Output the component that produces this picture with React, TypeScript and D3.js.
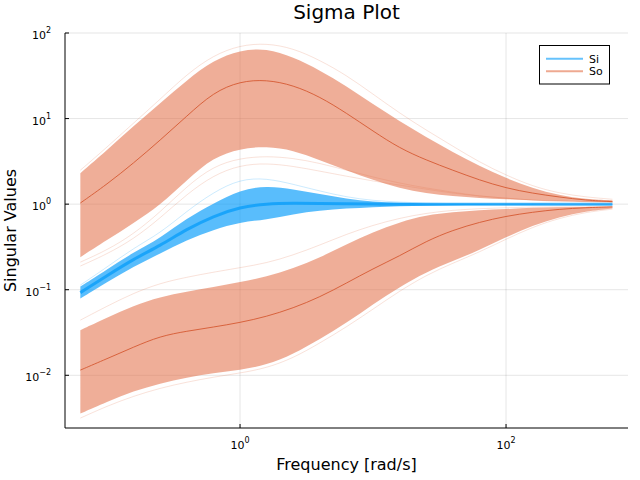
import React from "react";
import * as d3 from "d3";

// Frequency grid [rad/s]
const freqs = [0.063, 0.1, 0.158, 0.251, 0.398, 0.631, 1, 1.58, 2.51, 3.98, 6.31, 10, 15.8, 25.1, 39.8, 63.1, 100, 158, 251, 398, 631];

// Si (input sensitivity) band
const siMax = [0.1087, 0.1726, 0.273, 0.401, 0.686, 1.019, 1.458, 1.645, 1.497, 1.309, 1.159, 1.069, 1.033, 1.019, 1.013, 1.011, 1.008, 1.008, 1.005, 1.005, 1.005];
const siMin = [0.0787, 0.1227, 0.186, 0.2655, 0.38, 0.502, 0.616, 0.659, 0.764, 0.84, 0.891, 0.923, 0.948, 0.961, 0.973, 0.979, 0.984, 0.987, 0.989, 0.989, 0.989];
const siMid = [0.0925, 0.146, 0.228, 0.328, 0.511, 0.724, 0.923, 1.013, 1.027, 1.019, 1.008, 1.0, 1.0, 1.0, 1.0, 1.0, 1.0, 1.0, 1.0, 1.0, 1.0];
const siHigh = [0.1132, 0.1837, 0.306, 0.458, 0.829, 1.38, 1.96, 2.01, 1.71, 1.42, 1.21, 1.099, 1.055, 1.027, 1.013, 1.005, 1.0, 1.0, 1.0, 1.0, 1.0];

// So (output sensitivity) – largest singular value band
const soUpperMax = [2.3, 4.27, 8.15, 15.1, 28.1, 48.1, 63.0, 66.4, 52.2, 36.8, 23.9, 14.7, 9.33, 6.06, 4.05, 2.78, 2.01, 1.54, 1.27, 1.14, 1.11];
const soUpperMin = [0.24, 0.38, 0.6, 0.973, 1.91, 3.54, 4.45, 4.76, 4.27, 3.27, 2.49, 1.91, 1.54, 1.34, 1.24, 1.175, 1.14, 1.11, 1.084, 1.07, 1.055];
const soUpperMid = [1.03, 1.71, 3.01, 5.59, 10.7, 20.3, 27.3, 28.5, 24.6, 18.0, 11.6, 7.13, 4.51, 3.27, 2.49, 1.91, 1.54, 1.34, 1.21, 1.11, 1.07];
const soUpperHigh = [2.49, 4.63, 8.84, 16.8, 33.0, 55.0, 72.0, 76.0, 66.4, 48.1, 32.1, 19.3, 11.6, 7.32, 4.76, 3.09, 2.18, 1.62, 1.34, 1.21, 1.14];
const soUpperLowA = [0.21, 0.29, 0.446, 0.806, 1.62, 2.78, 3.45, 3.64, 3.45, 3.01, 2.49, 2.07, 1.76, 1.54, 1.38, 1.24, 1.175, 1.11, 1.084, 1.07, 1.055];
const soUpperLowB = [0.189, 0.261, 0.39, 0.686, 1.309, 2.18, 2.86, 3.01, 2.78, 2.43, 2.12, 1.86, 1.67, 1.497, 1.34, 1.24, 1.175, 1.11, 1.084, 1.07, 1.055];

// So – smallest singular value band
const soLowerMax = [0.0337, 0.047, 0.0652, 0.0826, 0.0951, 0.1072, 0.1227, 0.1423, 0.1764, 0.237, 0.341, 0.471, 0.616, 0.744, 0.806, 0.851, 0.874, 0.91, 0.923, 0.927, 0.93];
const soLowerMin = [0.00357, 0.00488, 0.00654, 0.00804, 0.0094, 0.01061, 0.0115, 0.01315, 0.0177, 0.0265, 0.0407, 0.0679, 0.1072, 0.1605, 0.216, 0.29, 0.412, 0.561, 0.705, 0.829, 0.891];
const soLowerMid = [0.0115, 0.01563, 0.02135, 0.0287, 0.0328, 0.0366, 0.0413, 0.0485, 0.061, 0.082, 0.1194, 0.1764, 0.247, 0.37, 0.497, 0.616, 0.724, 0.806, 0.874, 0.91, 0.93];
const soLowerHigh = [0.0441, 0.0643, 0.0912, 0.1194, 0.1403, 0.1605, 0.181, 0.2046, 0.2537, 0.332, 0.446, 0.568, 0.686, 0.785, 0.851, 0.886, 0.91, 0.923, 0.927, 0.93, 0.93];
const soLowerLow = [0.00316, 0.00437, 0.00571, 0.00709, 0.00833, 0.00953, 0.01061, 0.01214, 0.01588, 0.0238, 0.0366, 0.0593, 0.0964, 0.148, 0.2046, 0.275, 0.39, 0.539, 0.686, 0.806, 0.874];

const yTicks = [0.01, 0.1, 1, 10, 100];
const yTickExps = ["\u22122", "\u22121", "0", "1", "2"];
const xTicks = [1, 100];
const xTickExps = ["0", "2"];
const seriesNames = ["Si", "So"];

const BLUE = "#009AFA";
const ORANGE = "#E36F47";
const FONT = "DejaVu Sans, sans-serif";

export default function App() {
  const left = 65, right = 628, top = 33, bottom = 428;
  const x = d3.scaleLog().domain([Math.pow(10, -1.316), Math.pow(10, 2.917)]).range([left, right]);
  const y = d3.scaleLog().domain([Math.pow(10, -2.616), 100]).range([bottom, top]);
  const curve = d3.curveBasis;

  const line = (vals: number[]) =>
    d3.line<number>().x((_, i) => x(freqs[i])).y((d) => y(d)).curve(curve)(vals) || "";
  const area = (lo: number[], hi: number[]) =>
    d3.area<number>().x((_, i) => x(freqs[i])).y0((_, i) => y(lo[i])).y1((d) => y(d)).curve(curve)(hi) || "";

  return (
    <svg width={640} height={480} style={{ position: "absolute", left: 0, top: 0, background: "#fff" }} fontFamily={FONT}>
      <rect x={0} y={0} width={640} height={480} fill="#fff" />
      {/* grid */}
      {yTicks.map((t) => (
        <line key={"gy" + t} x1={left} x2={right} y1={y(t)} y2={y(t)} stroke="#000" strokeOpacity={0.1} strokeWidth={1} />
      ))}
      {xTicks.map((t) => (
        <line key={"gx" + t} x1={x(t)} x2={x(t)} y1={top} y2={bottom} stroke="#000" strokeOpacity={0.1} strokeWidth={1} />
      ))}

      {/* So bands */}
      <path d={area(soUpperMin, soUpperMax)} fill={ORANGE} fillOpacity={0.56} />
      <path d={area(soLowerMin, soLowerMax)} fill={ORANGE} fillOpacity={0.56} />
      {[soUpperHigh, soUpperLowA, soUpperLowB, soLowerHigh, soLowerLow].map((s, i) => (
        <path key={"so" + i} d={line(s)} fill="none" stroke={ORANGE} strokeOpacity={0.2} strokeWidth={1} />
      ))}
      <path d={line(soUpperMid)} fill="none" stroke="#D4552D" strokeOpacity={0.85} strokeWidth={1} />
      <path d={line(soLowerMid)} fill="none" stroke="#D4552D" strokeOpacity={0.85} strokeWidth={1} />

      {/* Si band */}
      <path d={area(siMin, siMax)} fill={BLUE} fillOpacity={0.65} />
      <path d={line(siMid)} fill="none" stroke={BLUE} strokeOpacity={0.7} strokeWidth={3} />
      <path d={line(siHigh)} fill="none" stroke={BLUE} strokeOpacity={0.2} strokeWidth={1} />

      {/* axes */}
      <line x1={left} x2={left} y1={top} y2={bottom} stroke="#000" strokeWidth={1} />
      <line x1={left} x2={right} y1={bottom} y2={bottom} stroke="#000" strokeWidth={1} />
      {yTicks.map((t, i) => (
        <g key={"yt" + t}>
          <line x1={left} x2={left + 4} y1={y(t)} y2={y(t)} stroke="#000" strokeWidth={1} />
          <text x={51} y={y(t) + 6} textAnchor="end" fontSize={11} fill="#000">
            10<tspan dy={-6} fontSize={8}>{yTickExps[i]}</tspan>
          </text>
        </g>
      ))}
      {xTicks.map((t, i) => (
        <g key={"xt" + t}>
          <line x1={x(t)} x2={x(t)} y1={bottom} y2={bottom - 4} stroke="#000" strokeWidth={1} />
          <text x={x(t)} y={449} textAnchor="middle" fontSize={11} fill="#000">
            10<tspan dy={-6} fontSize={8}>{xTickExps[i]}</tspan>
          </text>
        </g>
      ))}

      {/* labels */}
      <text x={(left + right) / 2} y={19} textAnchor="middle" fontSize={20} fill="#000">Sigma Plot</text>
      <text x={(left + right) / 2} y={470} textAnchor="middle" fontSize={16} fill="#000">Frequency [rad/s]</text>
      <text transform={`translate(16,${(top + bottom) / 2}) rotate(-90)`} textAnchor="middle" fontSize={16} fill="#000">Singular Values</text>

      {/* legend */}
      <rect x={539.5} y={45.5} width={70} height={38.5} fill="#fff" stroke="#000" strokeWidth={1} />
      {seriesNames.map((n, i) => (
        <g key={n}>
          <line x1={546} x2={583} y1={58.7 + i * 12.6} y2={58.7 + i * 12.6} stroke={i === 0 ? BLUE : ORANGE} strokeOpacity={0.6} strokeWidth={2} />
          <text x={589} y={62.5 + i * 12.6} fontSize={11} fill="#000">{n}</text>
        </g>
      ))}
    </svg>
  );
}
